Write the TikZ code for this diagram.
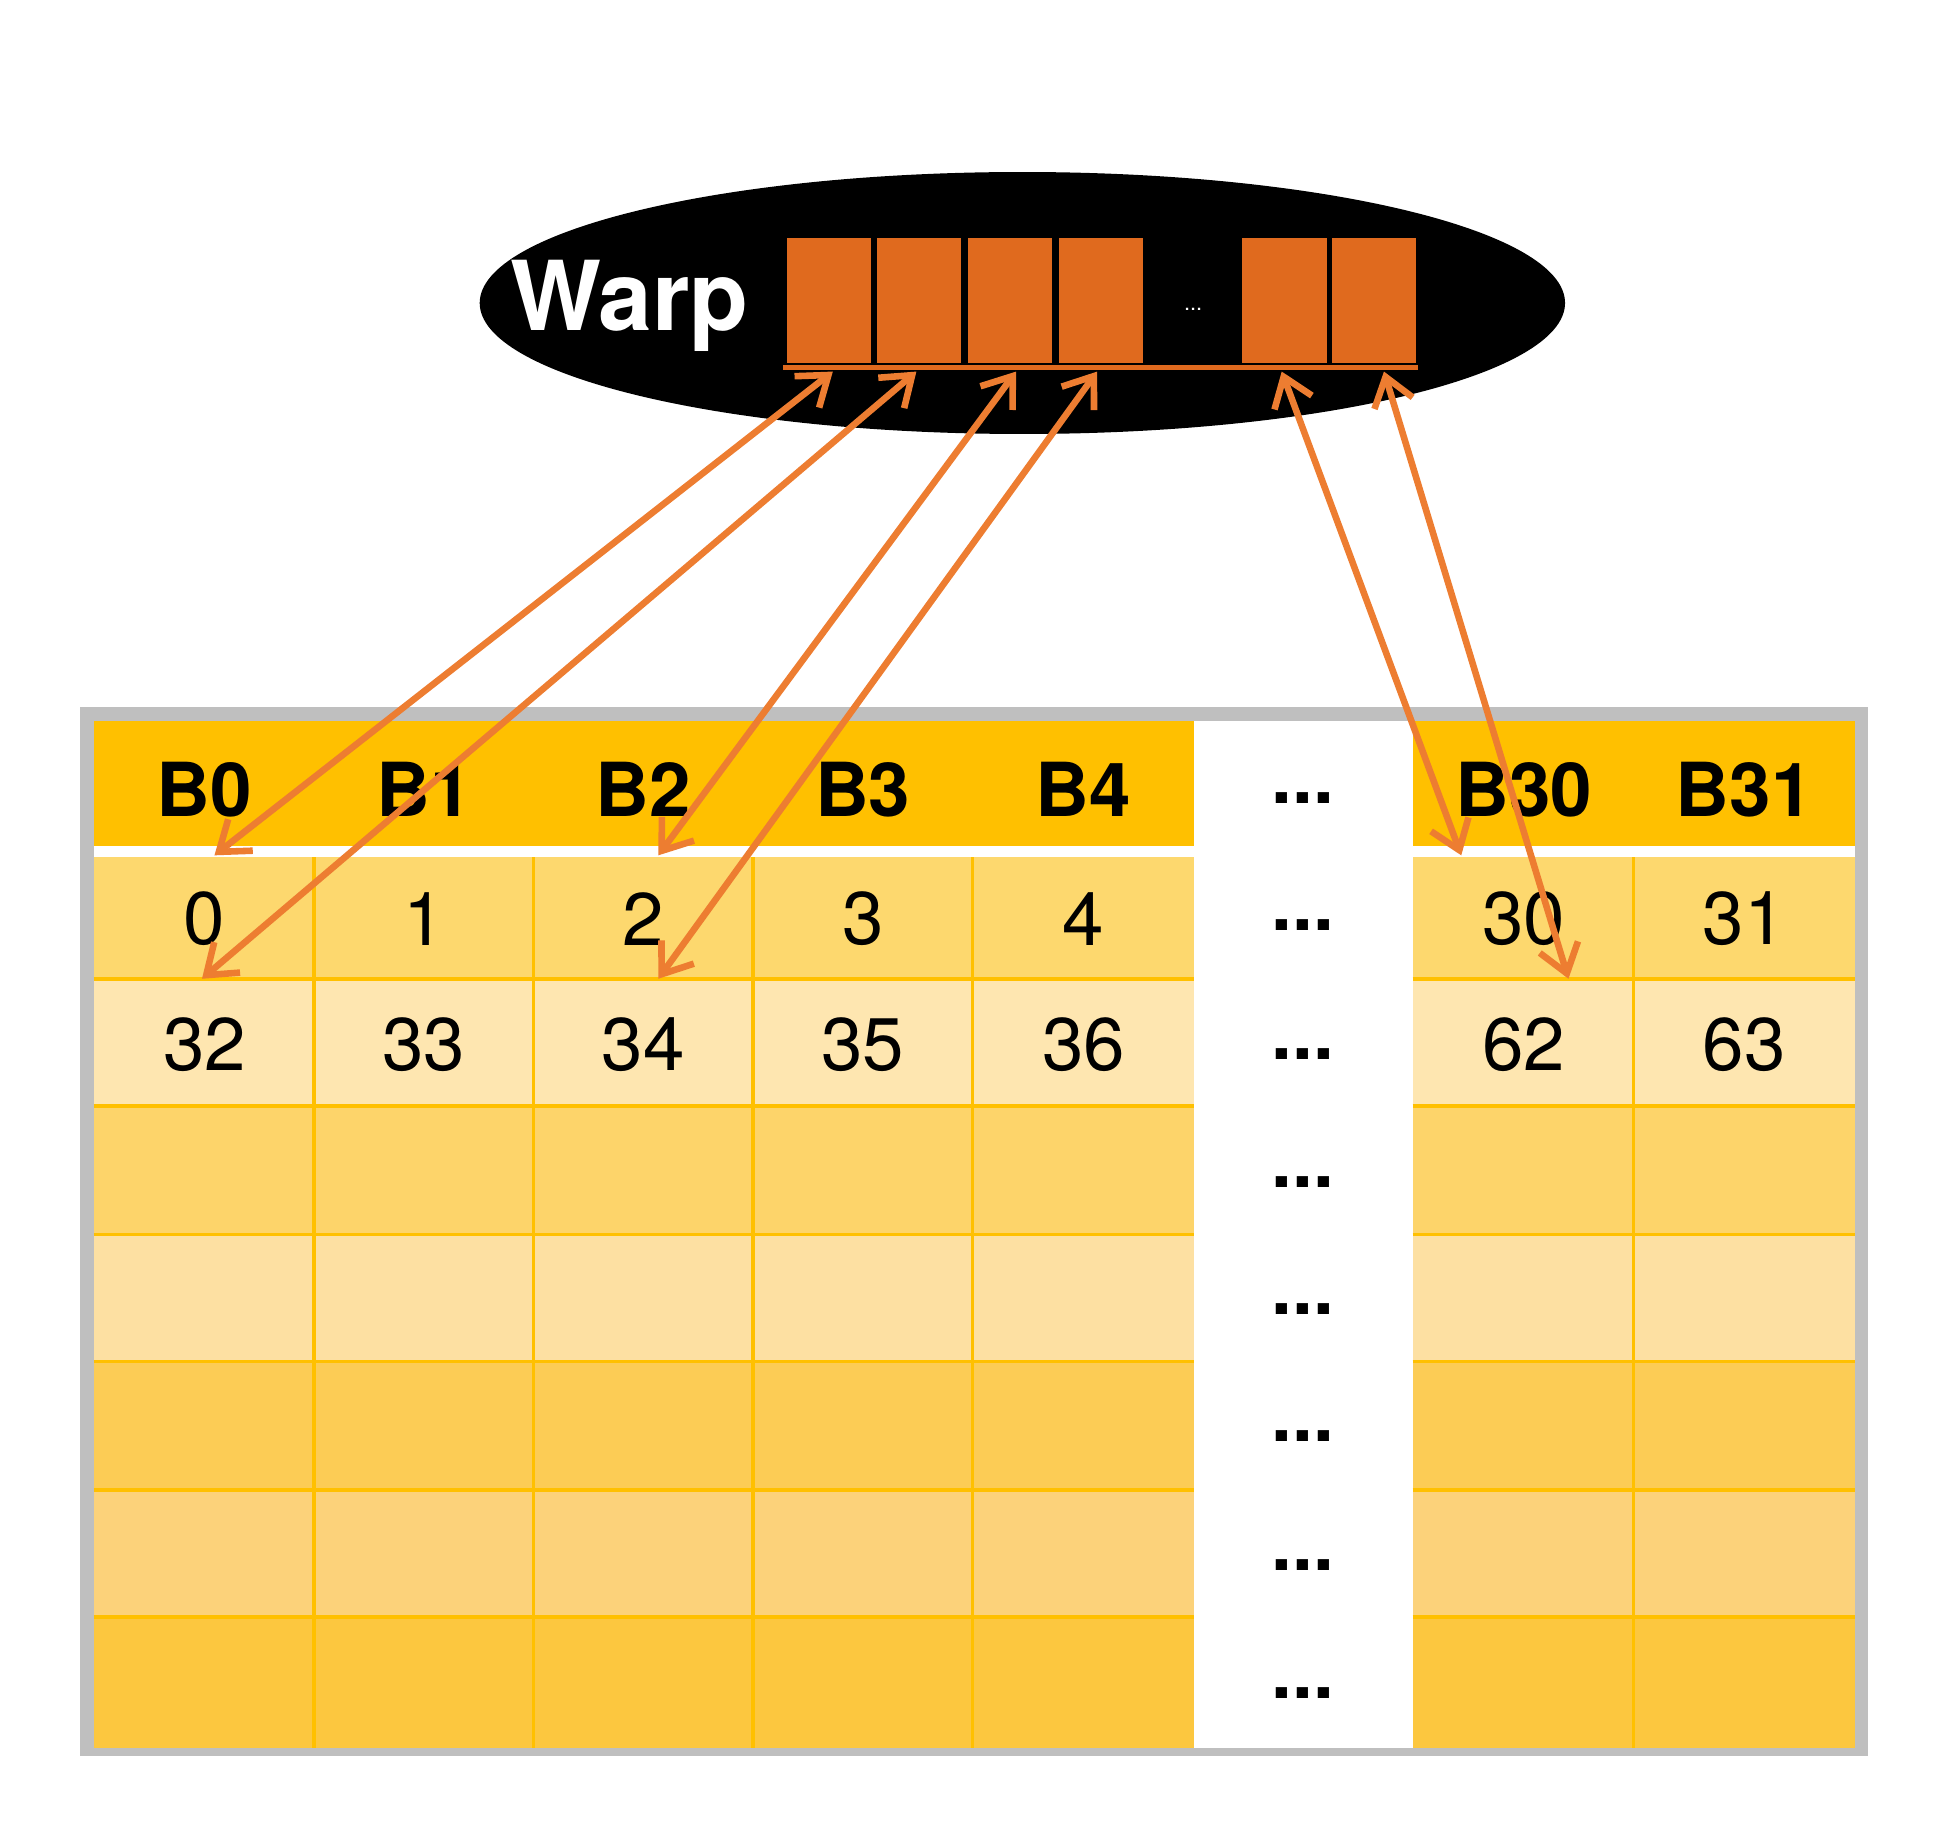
\documentclass[tikz,border=0pt]{standalone}
\usepackage{fontspec}
\setmainfont{TeX Gyre Heros}
\usetikzlibrary{arrows.meta,shapes.geometric}
\definecolor{warporange}{HTML}{E06A1E}
\definecolor{arroworange}{HTML}{ED7D31}
\definecolor{hdrgold}{HTML}{FFC000}
\definecolor{rowA}{HTML}{FDD86E}
\definecolor{rowB}{HTML}{FEE6B0}
\definecolor{rowC}{HTML}{FDD46A}
\definecolor{rowD}{HTML}{FDE0A2}
\definecolor{rowE}{HTML}{FCCC55}
\definecolor{rowF}{HTML}{FCD27A}
\definecolor{rowG}{HTML}{FCC73F}
\tikzset{
  cellline/.style={draw=hdrgold,line width=0.8pt},
  lanebox/.style={fill=warporange,draw=black,line width=0.6pt},
  link/.style={draw=arroworange,line width=1.5pt,{Straight Barb[length=2.2mm,width=3.2mm]}-{Straight Barb[length=2.2mm,width=3.2mm]}},
  hdrtxt/.style={font=\fontsize{17}{20}\selectfont\bfseries},
  numtxt/.style={font=\fontsize{17}{20}\selectfont}
}
\begin{document}
\begin{tikzpicture}[x=0.01cm,y=-0.01cm]
\useasboundingbox (0,0) rectangle (1560,1468);

% warp
\node[ellipse,fill=black,minimum width=8.7cm,minimum height=2.1cm,inner sep=0] (warp) at (820,243) {};
\node[text=white,font=\fontsize{22}{26}\selectfont\bfseries] (warplbl) at (505,245) {Warp};
\foreach \x/\n in {630/l0,702/l1,775/l2,848/l3,995/l30,1067/l31}
  \path[lanebox] (\x,190) rectangle ++(70,102) coordinate (\n);
\node[text=white,font=\tiny] (lanedots) at (957,248) {...};
\draw[warporange,line width=1.2pt] (628,295) -- (1137,295);
\foreach \x/\n in {668/t0,735/t1,815/t2,880/t3,1028/t30,1110/t31}
  \coordinate (\n) at (\x,298);

% table
\fill[black!25] (64,567) rectangle (1498,1408);
\fill[white] (958,578) rectangle (1133,1402);
\foreach \ya/\yb/\c in {578/683/hdrgold,683/785/rowA,785/887/rowB,887/990/rowC,990/1092/rowD,1092/1195/rowE,1195/1297/rowF,1297/1402/rowG}{
  \fill[\c] (75,\ya) rectangle (958,\yb);
  \fill[\c] (1133,\ya) rectangle (1488,\yb);
}
\foreach \y in {785,887,990,1092,1195,1297}{
  \draw[cellline] (75,\y) -- (958,\y);
  \draw[cellline] (1133,\y) -- (1488,\y);
}
\foreach \x in {252,428,604,780} \draw[cellline] (\x,683) -- (\x,1402);
\draw[cellline] (1310,683) -- (1310,1402);
\draw[white,line width=2.5pt] (75,683) -- (958,683);
\draw[white,line width=2.5pt] (1133,683) -- (1488,683);

% headers and values
\foreach \x/\b/\a/\c in {164/0/0/32,340/1/1/33,516/2/2/34,692/3/3/35,869/4/4/36,1222/30/30/62,1399/31/31/63}{
  \node[hdrtxt] (hB\b) at (\x,633) {B\b};
  \node[numtxt] (vA\b) at (\x,737) {\a};
  \node[numtxt] (vB\b) at (\x,838) {\c};
}
\foreach \y [count=\i] in {640,742,845,948,1050,1152,1255,1358}
  \node[font=\fontsize{17}{20}\selectfont\bfseries] (gap\i) at (1045,\y) {...};

% lanes to banks
\coordinate (e0) at (172,686);
\coordinate (e1) at (162,785);
\coordinate (e2) at (528,686);
\coordinate (e3) at (528,785);
\coordinate (e30) at (1172,686);
\coordinate (e31) at (1258,785);
\foreach \k in {0,1,2,3,30,31}
  \draw[link] (t\k) -- (e\k);
\end{tikzpicture}
\end{document}
